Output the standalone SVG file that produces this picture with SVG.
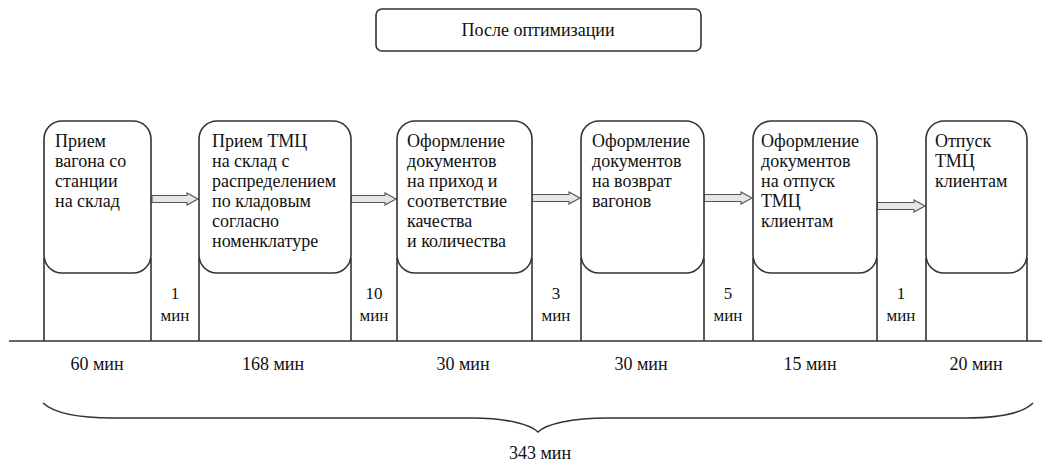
<svg xmlns="http://www.w3.org/2000/svg" width="1047" height="461" viewBox="0 0 1047 461">
<style>
.box{fill:#fff;stroke:#333;stroke-width:1.6}
.ln{stroke:#333;stroke-width:1.6;fill:none}
.arr{fill:#e6e6e6;stroke:#555;stroke-width:1.1}
.t{font-family:"Liberation Serif","Times New Roman",serif;font-size:18px;fill:#111}
.c{text-anchor:middle}
.s{font-size:17px}
</style>
<rect width="1047" height="461" fill="#fff"/>
<g id="title">
<rect class="box" x="376" y="9" width="325" height="42" rx="6"/>
<text class="t c" x="538" y="36">После оптимизации</text>
</g>
<g id="connectors">
<line class="ln" x1="9" y1="341" x2="1042" y2="341"/>
<path class="ln" d="M44,258V341M151,258V341M199,258V341M351,258V341M397,258V341M532,258V341M581,258V341M704,258V341M753,258V341M877,258V341M926,258V341M1027,258V341"/>
<path class="arr" d="M152,195.5H187V193L198,199L187,205V202.5H152Z"/>
<path class="arr" d="M351,195.5H385V193L396,199L385,205V202.5H351Z"/>
<path class="arr" d="M532,194.5H569V192L580,198L569,204V201.5H532Z"/>
<path class="arr" d="M704,194.5H741V192L752,198L741,204V201.5H704Z"/>
<path class="arr" d="M877,202.5H914V200L925,206L914,212V209.5H877Z"/>
<path class="ln" d="M43,403C55,414 80,418 113,418L472,418C505,418 530,424 538,432C546,424 572,418 607,418L965,418C998,418 1022,414 1033,403"/>
</g>
<g id="n1">
<rect class="box" x="44" y="121" width="107" height="152" rx="18"/>
<text class="t" x="55" y="147">Прием<tspan x="55" dy="20">вагона со</tspan><tspan x="55" dy="20">станции</tspan><tspan x="55" dy="20">на склад</tspan></text>
</g>
<g id="n2">
<rect class="box" x="199" y="121" width="152" height="152" rx="18"/>
<text class="t" x="212" y="147">Прием ТМЦ<tspan x="212" dy="20">на склад с</tspan><tspan x="212" dy="20">распределением</tspan><tspan x="212" dy="20">по кладовым</tspan><tspan x="212" dy="20">согласно</tspan><tspan x="212" dy="20">номенклатуре</tspan></text>
</g>
<g id="n3">
<rect class="box" x="397" y="121" width="135" height="152" rx="18"/>
<text class="t" x="407" y="147">Оформление<tspan x="407" dy="20">документов</tspan><tspan x="407" dy="20">на приход и</tspan><tspan x="407" dy="20">соответствие</tspan><tspan x="407" dy="20">качества</tspan><tspan x="407" dy="20">и количества</tspan></text>
</g>
<g id="n4">
<rect class="box" x="581" y="121" width="123" height="152" rx="18"/>
<text class="t" x="592" y="147">Оформление<tspan x="592" dy="20">документов</tspan><tspan x="592" dy="20">на возврат</tspan><tspan x="592" dy="20">вагонов</tspan></text>
</g>
<g id="n5">
<rect class="box" x="753" y="121" width="124" height="152" rx="18"/>
<text class="t" x="761" y="147">Оформление<tspan x="761" dy="20">документов</tspan><tspan x="761" dy="20">на отпуск</tspan><tspan x="761" dy="20">ТМЦ</tspan><tspan x="761" dy="20">клиентам</tspan></text>
</g>
<g id="n6">
<rect class="box" x="926" y="121" width="101" height="152" rx="18"/>
<text class="t" x="935" y="147">Отпуск<tspan x="935" dy="20">ТМЦ</tspan><tspan x="935" dy="20">клиентам</tspan></text>
</g>
<g id="gaps">
<text class="t c s" x="175" y="299">1</text><text class="t c s" x="175" y="321">мин</text>
<text class="t c s" x="374" y="299">10</text><text class="t c s" x="374" y="321">мин</text>
<text class="t c s" x="556" y="299">3</text><text class="t c s" x="556" y="321">мин</text>
<text class="t c s" x="728" y="299">5</text><text class="t c s" x="728" y="321">мин</text>
<text class="t c s" x="901" y="299">1</text><text class="t c s" x="901" y="321">мин</text>
</g>
<g id="durations">
<text class="t c" x="97" y="370">60 мин</text>
<text class="t c" x="273" y="370">168 мин</text>
<text class="t c" x="463" y="370">30 мин</text>
<text class="t c" x="641" y="370">30 мин</text>
<text class="t c" x="810" y="370">15 мин</text>
<text class="t c" x="976" y="370">20 мин</text>
<text class="t c" x="540" y="459">343 мин</text>
</g>
</svg>
